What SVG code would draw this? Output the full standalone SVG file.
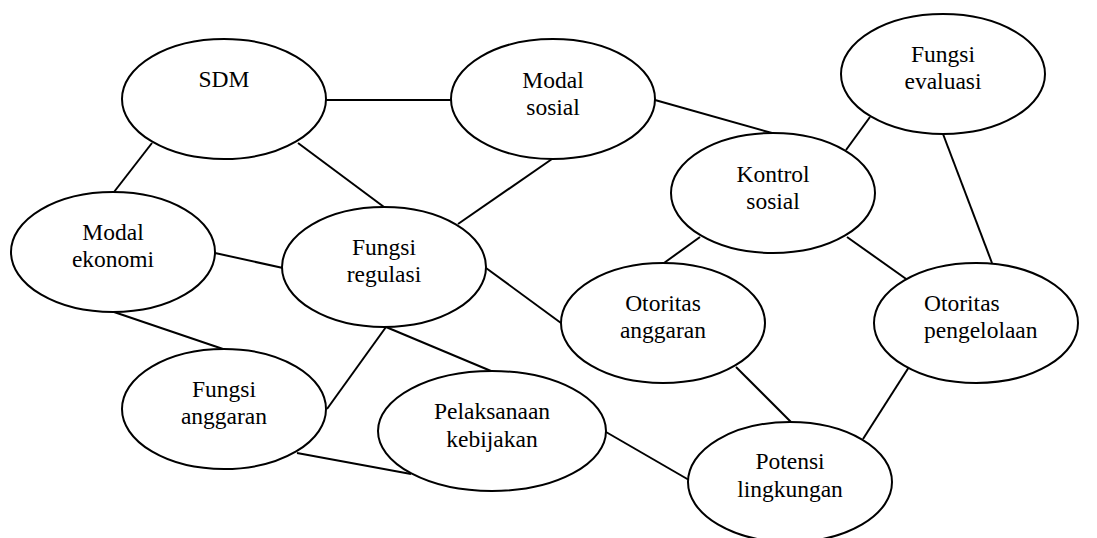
<svg xmlns="http://www.w3.org/2000/svg" width="1097" height="538" viewBox="0 0 1097 538">
<style>
.n{fill:#fff;stroke:#000;stroke-width:2}
.c line{stroke:#000;stroke-width:2}
.t text{font-size:23.5px;fill:#000;text-anchor:middle}
</style>
<rect width="1097" height="538" fill="#fff"/>
<g class="c" id="connectors">
<line x1="326" y1="100" x2="451" y2="100"/>
<line x1="152" y1="143" x2="114" y2="192"/>
<line x1="298" y1="143" x2="384" y2="207"/>
<line x1="552" y1="159" x2="458" y2="224"/>
<line x1="655" y1="100" x2="772" y2="133"/>
<line x1="870" y1="117" x2="846" y2="150"/>
<line x1="943" y1="134" x2="992" y2="263"/>
<line x1="215" y1="253" x2="283" y2="268"/>
<line x1="114" y1="312" x2="223" y2="349"/>
<line x1="486" y1="268" x2="561" y2="323"/>
<line x1="386" y1="327" x2="327" y2="409"/>
<line x1="386" y1="327" x2="491" y2="371"/>
<line x1="297" y1="453" x2="411" y2="474"/>
<line x1="606" y1="432" x2="689" y2="480"/>
<line x1="736" y1="367" x2="791" y2="422"/>
<line x1="909" y1="367" x2="863" y2="439"/>
<line x1="700" y1="237" x2="664" y2="263"/>
<line x1="847" y1="237" x2="909" y2="281"/>
</g>
<g class="t" font-family="Liberation Serif, Times New Roman, DejaVu Serif, serif">
<g id="sdm"><ellipse class="n" cx="224" cy="99" rx="102" ry="60"/><text x="224" y="87">SDM</text></g>
<g id="modal-sosial"><ellipse class="n" cx="553" cy="99" rx="102" ry="60"/><text x="553" y="88">Modal</text><text x="553" y="115">sosial</text></g>
<g id="fungsi-evaluasi"><ellipse class="n" cx="943" cy="74" rx="102" ry="60"/><text x="943" y="62">Fungsi</text><text x="943" y="89">evaluasi</text></g>
<g id="kontrol-sosial"><ellipse class="n" cx="773" cy="193" rx="102" ry="60"/><text x="773" y="182">Kontrol</text><text x="773" y="209">sosial</text></g>
<g id="modal-ekonomi"><ellipse class="n" cx="113" cy="252" rx="102" ry="60"/><text x="113" y="240">Modal</text><text x="113" y="267">ekonomi</text></g>
<g id="fungsi-regulasi"><ellipse class="n" cx="384" cy="267" rx="102" ry="60"/><text x="384" y="255">Fungsi</text><text x="384" y="282">regulasi</text></g>
<g id="otoritas-anggaran"><ellipse class="n" cx="663" cy="323" rx="102" ry="60"/><text x="663" y="311">Otoritas</text><text x="663" y="338">anggaran</text></g>
<g id="otoritas-pengelolaan"><ellipse class="n" cx="976" cy="323" rx="102" ry="60"/><text x="924" y="311" text-anchor="start" style="text-anchor:start">Otoritas</text><text x="924" y="338" style="text-anchor:start">pengelolaan</text></g>
<g id="fungsi-anggaran"><ellipse class="n" cx="224" cy="409" rx="102" ry="60"/><text x="224" y="397">Fungsi</text><text x="224" y="424">anggaran</text></g>
<g id="pelaksanaan-kebijakan"><ellipse class="n" cx="492" cy="431" rx="114" ry="60"/><text x="492" y="419">Pelaksanaan</text><text x="492" y="447">kebijakan</text></g>
<g id="potensi-lingkungan"><ellipse class="n" cx="790" cy="482" rx="102" ry="60"/><text x="790" y="469">Potensi</text><text x="790" y="497">lingkungan</text></g>
</g>
</svg>
